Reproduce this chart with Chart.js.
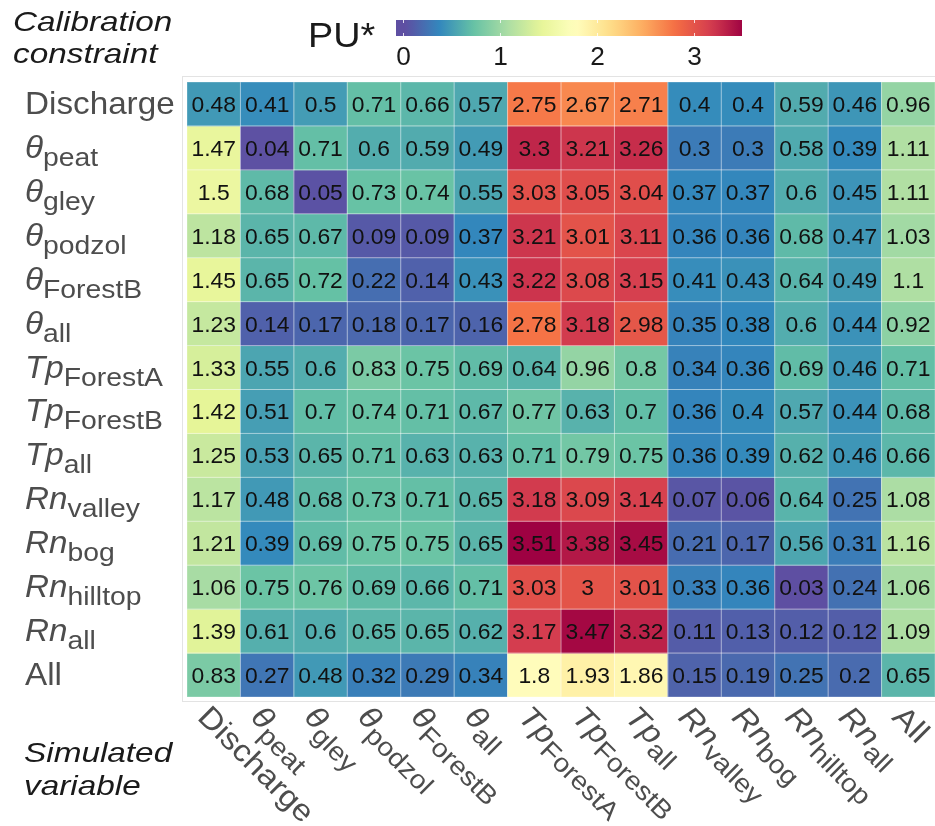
<!DOCTYPE html>
<html><head><meta charset="utf-8">
<script src="https://cdn.jsdelivr.net/npm/chart.js@4/dist/chart.umd.min.js"></script>
<style>html,body{margin:0;padding:0;background:#fff;}canvas{display:block}</style>
</head><body>
<canvas id="c" width="935" height="826"></canvas>
<script>
// ---- labels (shared by calibration rows and simulated columns) ----
const varMain   = ['Discharge','θ','θ','θ','θ','θ','Tp','Tp','Tp','Rn','Rn','Rn','Rn','All'];
const varSub    = ['','peat','gley','podzol','ForestB','all','ForestA','ForestB','all','valley','bog','hilltop','all',''];
const varItalic = [false,true,true,true,true,true,true,true,true,true,true,true,true,false];

// ---- PU* values: one array per calibration constraint (row), columns = simulated variable ----
const rowDischarge = [0.48,0.41,0.5,0.71,0.66,0.57,2.75,2.67,2.71,0.4,0.4,0.59,0.46,0.96];
const rowThetaPeat = [1.47,0.04,0.71,0.6,0.59,0.49,3.3,3.21,3.26,0.3,0.3,0.58,0.39,1.11];
const rowThetaGley = [1.5,0.68,0.05,0.73,0.74,0.55,3.03,3.05,3.04,0.37,0.37,0.6,0.45,1.11];
const rowThetaPodzol = [1.18,0.65,0.67,0.09,0.09,0.37,3.21,3.01,3.11,0.36,0.36,0.68,0.47,1.03];
const rowThetaForestB = [1.45,0.65,0.72,0.22,0.14,0.43,3.22,3.08,3.15,0.41,0.43,0.64,0.49,1.1];
const rowThetaAll = [1.23,0.14,0.17,0.18,0.17,0.16,2.78,3.18,2.98,0.35,0.38,0.6,0.44,0.92];
const rowTpForestA = [1.33,0.55,0.6,0.83,0.75,0.69,0.64,0.96,0.8,0.34,0.36,0.69,0.46,0.71];
const rowTpForestB = [1.42,0.51,0.7,0.74,0.71,0.67,0.77,0.63,0.7,0.36,0.4,0.57,0.44,0.68];
const rowTpAll = [1.25,0.53,0.65,0.71,0.63,0.63,0.71,0.79,0.75,0.36,0.39,0.62,0.46,0.66];
const rowRnValley = [1.17,0.48,0.68,0.73,0.71,0.65,3.18,3.09,3.14,0.07,0.06,0.64,0.25,1.08];
const rowRnBog = [1.21,0.39,0.69,0.75,0.75,0.65,3.51,3.38,3.45,0.21,0.17,0.56,0.31,1.16];
const rowRnHilltop = [1.06,0.75,0.76,0.69,0.66,0.71,3.03,3,3.01,0.33,0.36,0.03,0.24,1.06];
const rowRnAll = [1.39,0.61,0.6,0.65,0.65,0.62,3.17,3.47,3.32,0.11,0.13,0.12,0.12,1.09];
const rowAll = [0.83,0.27,0.48,0.32,0.29,0.34,1.8,1.93,1.86,0.15,0.19,0.25,0.2,0.65];

const colourTicks = [0,1,2,3];
const spectralRev = ['#5e4fa2','#3288bd','#66c2a5','#abdda4','#e6f598','#ffffbf','#fee08b','#fdae61','#f46d43','#d53e4f','#9e0142'];

const rows = [rowDischarge,rowThetaPeat,rowThetaGley,rowThetaPodzol,rowThetaForestB,rowThetaAll,
  rowTpForestA,rowTpForestB,rowTpAll,rowRnValley,rowRnBog,rowRnHilltop,rowRnAll,rowAll];
const allVals = rows.flat();
const vMin = Math.min(...allVals), vMax = Math.max(...allVals);

function hex2rgb(h){return [parseInt(h.slice(1,3),16),parseInt(h.slice(3,5),16),parseInt(h.slice(5,7),16)];}
const pal = spectralRev.map(hex2rgb);
function colourOf(v){
  let t = (v - vMin) / (vMax - vMin);
  t = Math.max(0, Math.min(1, t)) * (pal.length - 1);
  const i = Math.min(Math.floor(t), pal.length - 2), f = t - i;
  const c = pal[i].map((a,k)=>Math.round(a + (pal[i+1][k]-a)*f));
  return `rgb(${c[0]},${c[1]},${c[2]})`;
}

const FONT = '"Liberation Sans", Arial, sans-serif';
function stretchText(ctx, s, x, y, size, italic, sx, align){
  ctx.save();
  ctx.font = (italic ? 'italic ' : '') + size + 'px ' + FONT;
  ctx.translate(x, y);
  ctx.scale(sx, 1);
  ctx.textAlign = align || 'left';
  ctx.textBaseline = 'alphabetic';
  ctx.fillText(s, 0, 0);
  const w = ctx.measureText(s).width * sx;
  ctx.restore();
  return w;
}
function richLabel(ctx, i, x, y){
  const w = stretchText(ctx, varMain[i], x, y, 30.5, varItalic[i], 1.09);
  if (varSub[i]) stretchText(ctx, varSub[i], x + w, y + 8, 26, false, 1.09);
}

const cellPlugin = {
  id: 'cells',
  beforeDraw(chart){
    const {ctx, chartArea:a} = chart;
    ctx.save();
    ctx.strokeStyle = '#e3e3e3'; ctx.lineWidth = 1;
    ctx.strokeRect(a.left - 4.5, a.top - 5.5, a.right - a.left + 20, a.bottom - a.top + 10);
    ctx.restore();
  },
  afterDatasetsDraw(chart){
    const ctx = chart.ctx;
    chart.data.datasets.forEach((ds, r) => {
      const meta = chart.getDatasetMeta(r);
      meta.data.forEach((el, c) => {
        const p = el.getProps(['x','y','base','width'], true);
        const top = Math.min(p.y, p.base), h = Math.abs(p.base - p.y);
        ctx.save();
        ctx.strokeStyle = 'rgba(255,255,255,0.3)'; ctx.lineWidth = 1;
        ctx.strokeRect(p.x - p.width/2, top, p.width, h);
        ctx.fillStyle = '#111';
        stretchText(ctx, String(rows[r][c]), p.x, top + h/2 + 8, 22, false, 1.04, 'center');
        ctx.restore();
      });
    });
  },
  afterDraw(chart){
    const {ctx, scales:{x: xs, y: ys}, chartArea:a} = chart;
    ctx.save();
    // row labels
    ctx.fillStyle = '#4d4d4d';
    varMain.forEach((m, i) => richLabel(ctx, i, 25, ys.getPixelForValue(i + 0.5) + 10));
    // column labels, rotated
    varMain.forEach((m, i) => {
      ctx.save();
      ctx.translate(xs.getPixelForValue(i) - 2, a.bottom + 6);
      ctx.rotate(Math.PI/4);
      richLabel(ctx, i, 0, 22);
      ctx.restore();
    });
    // titles
    ctx.fillStyle = '#1a1a1a';
    stretchText(ctx, 'Calibration', 13, 31, 28, true, 1.19);
    stretchText(ctx, 'constraint', 13, 63, 28, true, 1.19);
    stretchText(ctx, 'Simulated', 24, 762, 28, true, 1.19);
    stretchText(ctx, 'variable', 24, 795, 28, true, 1.19);
    // colour bar legend
    stretchText(ctx, 'PU*', 308, 47, 35, false, 1.08);
    const cb0 = 403, cbU = 97, cbL = 396, cbR = 742, cbT = 20, cbB = 36;
    const g = ctx.createLinearGradient(cbL, 0, cbR, 0);
    for (let s = 0; s <= 40; s++){
      const px = cbL + (cbR - cbL) * s / 40;
      g.addColorStop(s / 40, colourOf((px - cb0) / cbU));
    }
    ctx.fillStyle = g;
    ctx.fillRect(cbL, cbT, cbR - cbL, cbB - cbT);
    ctx.strokeStyle = 'rgba(255,255,255,0.8)'; ctx.lineWidth = 1;
    ctx.fillStyle = '#1a1a1a';
    colourTicks.forEach(t => {
      const px = Math.round(cb0 + t * cbU) + 0.5;
      ctx.beginPath(); ctx.moveTo(px, cbT); ctx.lineTo(px, cbT + 3); ctx.moveTo(px, cbB - 3); ctx.lineTo(px, cbB); ctx.stroke();
      stretchText(ctx, String(t), px, 65, 25, false, 1.05, 'center');
    });
    ctx.restore();
  }
};

new Chart(document.getElementById('c'), {
  type: 'bar',
  data: {
    labels: varMain.map((m, i) => m + varSub[i]),
    datasets: rows.map((vals, r) => ({
      label: varMain[r] + varSub[r],
      data: vals.map(() => [r, r + 1]),
      backgroundColor: vals.map(colourOf),
      borderWidth: 0,
      barPercentage: 1,
      categoryPercentage: 1,
      grouped: false
    }))
  },
  options: {
    responsive: false,
    animation: false,
    devicePixelRatio: 1,
    layout: { padding: { left: 187, top: 82, right: 0, bottom: 129 } },
    scales: {
      x: { display: false },
      y: { display: false, min: 0, max: 14, reverse: true }
    },
    plugins: { legend: { display: false }, tooltip: { enabled: false } }
  },
  plugins: [cellPlugin]
});
</script>
</body></html>
